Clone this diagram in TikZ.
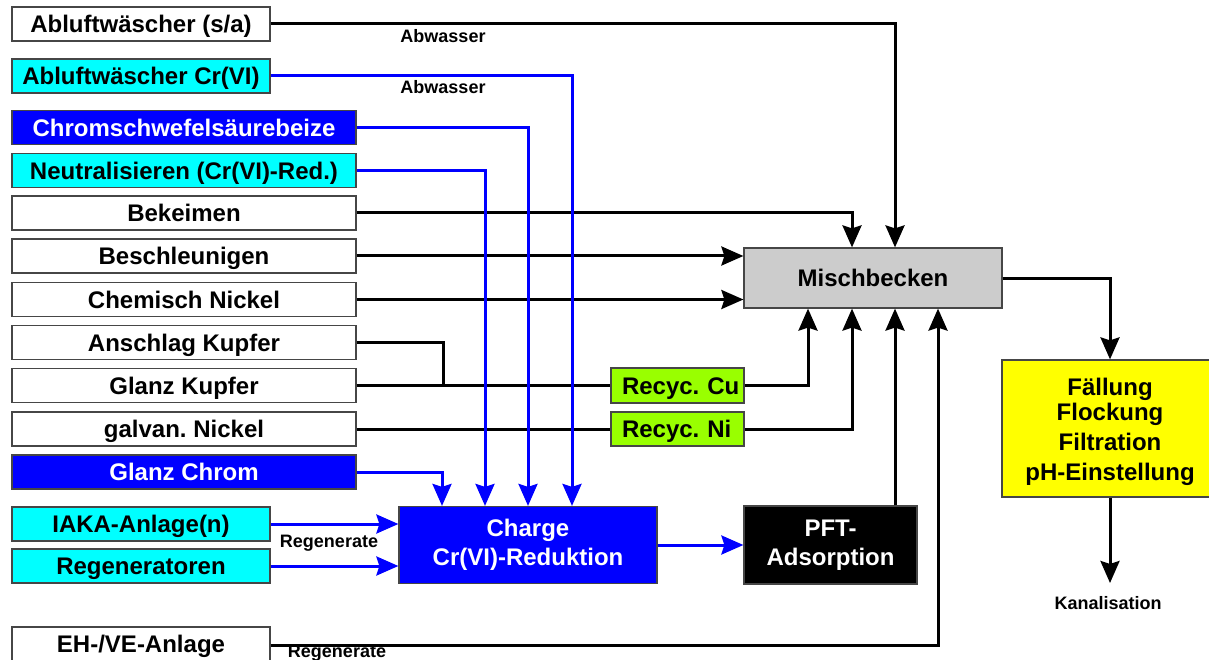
\documentclass[tikz,border=0pt]{standalone}
\usepackage{fontspec}
\setmainfont{Liberation Sans}
\usetikzlibrary{arrows.meta,calc}
\definecolor{cyanbox}{RGB}{0,255,255}
\definecolor{bluebox}{RGB}{0,0,255}
\definecolor{greenbox}{RGB}{153,255,0}
\definecolor{yellowbox}{RGB}{255,255,0}
\definecolor{graybox}{RGB}{204,204,204}
\definecolor{edge}{RGB}{70,70,70}
\tikzset{
  bigf/.style={font=\frenchspacing\bfseries\fontsize{24}{29}\selectfont},
  smallf/.style={font=\frenchspacing\bfseries\fontsize{18}{21}\selectfont},
  box/.style={draw=edge, line width=1.2pt, rectangle, inner sep=0pt, bigf, align=center},
  one/.style={text height=22pt, text depth=4.8pt},
  wbox/.style={box, one, fill=white, text=black},
  cbox/.style={box, one, fill=cyanbox, text=black},
  bbox/.style={box, one, fill=bluebox, text=white},
  gbox/.style={box, one, fill=greenbox, text=black, minimum width=133pt, text width=133pt, align=left},
  narrow/.style={minimum width=258pt, minimum height=34pt},
  wide/.style={minimum width=344pt, minimum height=34pt},
  bline/.style={line width=3pt, black},
  uline/.style={line width=3pt, bluebox},
  arr/.style={bline, -{Stealth[length=22pt,width=19pt,inset=3pt]}},
  barr/.style={uline, -{Stealth[length=22pt,width=19pt,inset=3pt]}},
  lbl/.style={smallf, inner sep=0pt}
}
\begin{document}
\begin{tikzpicture}[x=1pt,y=-1pt]
\useasboundingbox[fill=white] (0,0) rectangle (1209,660);
% left column
\node[wbox,narrow] (A1) at (141,24) {Abluftwäscher (s/a)};
\node[cbox,narrow] (A2) at (141,76) {Abluftwäscher Cr(VI)};
\node[bbox,wide] (B1) at (184,127.5) {Chromschwefelsäurebeize};
\node[cbox,wide] (B2) at (184,170.5) {Neutralisieren (Cr(VI)-Red.)};
\node[wbox,wide] (B3) at (184,213) {Bekeimen};
\node[wbox,wide] (B4) at (184,256) {Beschleunigen};
\node[wbox,wide] (B5) at (184,299.5) {Chemisch Nickel};
\node[wbox,wide] (B6) at (184,342.5) {Anschlag Kupfer};
\node[wbox,wide] (B7) at (184,385.5) {Glanz Kupfer};
\node[wbox,wide] (B8) at (184,429) {galvan. Nickel};
\node[bbox,wide] (B9) at (184,472) {Glanz Chrom};
\node[cbox,narrow] (C1) at (141,524) {IAKA-Anlage(n)};
\node[cbox,narrow] (C2) at (141,566) {Regeneratoren};
\node[wbox,narrow] (C3) at (141,644) {EH-/VE-Anlage};
% middle/right
\node[box,fill=bluebox,text=white,minimum width=258pt,minimum height=77pt] (Charge) at (528,545) {Charge\\Cr(VI)-Reduktion};
\node[box,fill=black,text=white,minimum width=173pt,minimum height=78pt] (PFT) at (830.5,545) {PFT-\\Adsorption};
\node[box,one,fill=graybox,minimum width=258pt,minimum height=60pt] (Misch) at (873,278) {Mischbecken};
\node[box,fill=yellowbox,minimum width=216pt,minimum height=137pt] (Fall) at (1110,428.5) {};
\node[bigf,align=center,inner sep=0pt] (FallTxt) at (1110,431.5) {Fällung\\[-4pt]Flockung\\[1pt]Filtration\\[1pt]pH-Einstellung};
\node[gbox,minimum height=35pt] (RCu) at (677.5,385.5) {\hspace*{11pt}\mbox{Recyc. Cu}};
\node[gbox,minimum height=34pt] (RNi) at (677.5,429) {\hspace*{11pt}\mbox{Recyc. Ni}};
% labels
\node[lbl] (L1) at (443,36) {Abwasser};
\node[lbl] (L2) at (443,87) {Abwasser};
\node[lbl] (L3) at (329,543) {Regenerate};
\node[lbl] (L4) at (337,653) {Regenerate};
\node[lbl] (Kanal) at (1108,603) {Kanalisation};
\coordinate (kanTip) at (1110,583);
\coordinate (j1) at (443,385.5);
% black connectors
\draw[arr] (A1.east) -| ([xshift=22pt]Misch.north);
\draw[arr] (B3.east) -| ([xshift=-21pt]Misch.north);
\draw[arr] (B4.east) -- (B4.east -| Misch.west);
\draw[arr] (B5.east) -- (B5.east -| Misch.west);
\draw[bline] (B6.east) -| (j1);
\draw[bline] (B7.east) -- (RCu.west);
\draw[bline] (B8.east) -- (RNi.west);
\draw[arr] (RCu.east) -| ([xshift=-65pt]Misch.south);
\draw[arr] (RNi.east) -| ([xshift=-21pt]Misch.south);
\draw[arr] ([xshift=64.5pt]PFT.north) -- ([xshift=22pt]Misch.south);
\draw[arr] ([yshift=-1pt]C3.east) -| ([xshift=65pt]Misch.south);
\draw[arr] (Misch.east) -| (Fall.north);
\draw[arr] (Fall.south) -- (kanTip);
% blue connectors
\draw[barr] (A2.east) -| ([xshift=44pt]Charge.north);
\draw[barr] (B1.east) -| (Charge.north);
\draw[barr] (B2.east) -| ([xshift=-43pt]Charge.north);
\draw[barr] (B9.east) -| ([xshift=-86pt]Charge.north);
\draw[barr] (C1.east) -- (C1.east -| Charge.west);
\draw[barr] (C2.east) -- (C2.east -| Charge.west);
\draw[barr] (Charge.east) -- (PFT.west);
\end{tikzpicture}
\end{document}
